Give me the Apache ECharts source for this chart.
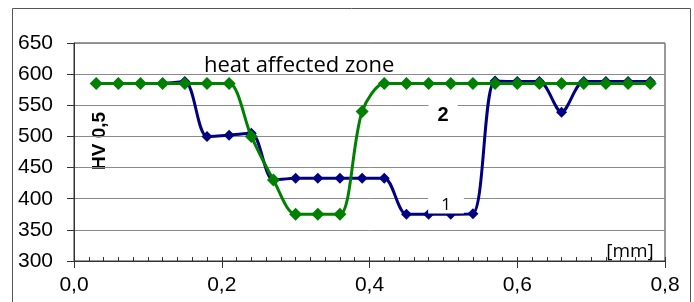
<!DOCTYPE html>
<html>
<head>
<meta charset="utf-8">
<script src="https://cdn.jsdelivr.net/npm/echarts@6/dist/echarts.min.js"></script>
<style>
  html, body { margin: 0; padding: 0; background: #fff; }
  #chart { width: 694px; height: 302px; }
</style>
</head>
<body>
<div id="chart"></div>
<script>
// measuring positions, mm
const depth = [0.03, 0.06, 0.09, 0.12, 0.15, 0.18, 0.21, 0.24, 0.27, 0.30, 0.33, 0.36, 0.39,
               0.42, 0.45, 0.48, 0.51, 0.54, 0.57, 0.60, 0.63, 0.66, 0.69, 0.72, 0.75, 0.78];
// curve 1 (blue)
const hv1 = [585, 585, 585, 585, 588, 500, 502, 505, 430, 433, 433, 433, 433,
             433, 375, 375, 375, 376, 589, 588, 588, 539, 588, 588, 588, 588];
// curve 2 (green)
const hv2 = [585, 585, 585, 585, 585, 585, 585, 500, 430, 375, 375, 375, 540,
             585, 585, 585, 585, 585, 585, 585, 585, 585, 585, 585, 585, 585];
const xTicks = [0, 0.2, 0.4, 0.6, 0.8];
const yTicks = [300, 350, 400, 450, 500, 550, 600, 650];

const axisColor = '#333';
const labelFont = 'Liberation Sans, Arial, sans-serif';

const chart = echarts.init(document.getElementById('chart'));

const toPairs = vals => depth.map((d, i) => [d, vals[i]]);

chart.setOption({
    animation: false,
    backgroundColor: '#fff',
    grid: {
        left: 74, right: 29, top: 43, bottom: 41,
        show: true, borderColor: axisColor, borderWidth: 1
    },
    xAxis: [
        {
            type: 'value',
            min: xTicks[0], max: xTicks[xTicks.length - 1], interval: 0.2,
            axisLine: { lineStyle: { color: axisColor } },
            axisTick: { length: 7, lineStyle: { color: axisColor } },
            axisLabel: {
                margin: 14, fontSize: 21, fontFamily: labelFont, color: '#000',
                formatter: v => v.toFixed(1).replace('.', ',')
            },
            splitLine: { show: false }
        },
        {
            // minor ticks pointing inwards
            type: 'value', position: 'bottom',
            min: 0, max: 0.8, interval: 0.02,
            axisLine: { show: false },
            axisTick: { inside: true, length: 4, lineStyle: { color: axisColor } },
            axisLabel: { show: false },
            splitLine: { show: false }
        }
    ],
    yAxis: {
        type: 'value',
        min: yTicks[0], max: yTicks[yTicks.length - 1], interval: 50,
        axisLine: { show: true, lineStyle: { color: axisColor } },
        axisTick: { show: true, length: 7, lineStyle: { color: axisColor } },
        axisLabel: { margin: 21, fontSize: 21, fontFamily: labelFont, color: '#000' },
        splitLine: { lineStyle: { color: '#8a8a8a', width: 1 } }
    },
    series: [
        {
            name: '1',
            type: 'line',
            data: toPairs(hv1),
            smooth: 0.3,
            symbol: 'diamond',
            symbolSize: 11,
            lineStyle: { color: '#000080', width: 3 },
            itemStyle: { color: '#000080' },
            z: 2
        },
        {
            name: '2',
            type: 'line',
            data: toPairs(hv2),
            smooth: 0.3,
            symbol: 'diamond',
            symbolSize: 13,
            lineStyle: { color: '#008000', width: 3 },
            itemStyle: { color: '#008000' },
            z: 3
        }
    ],
    graphic: [
        {
            type: 'rect', silent: true,
            shape: { x: 12.5, y: 8.5, width: 678, height: 320 },
            style: { fill: 'none', stroke: '#555', lineWidth: 1 }
        },
        {
            type: 'text', x: 204, y: 66,
            style: {
                text: 'heat affected zone', fontSize: 22, fontFamily: 'Open Sans, sans-serif',
                fill: '#000', textVerticalAlign: 'middle'
            }
        },
        {
            type: 'text', x: 100, y: 141, rotation: Math.PI / 2,
            style: {
                text: 'HV 0,5', fontSize: 19, fontWeight: 'bold', fontFamily: labelFont,
                fill: '#000', textAlign: 'center', textVerticalAlign: 'middle'
            }
        },
        {
            type: 'text', x: 443, y: 115, z: 10,
            style: {
                text: '2', fontSize: 20, fontWeight: 'bold', fontFamily: labelFont,
                fill: '#000', textAlign: 'center', textVerticalAlign: 'middle',
                backgroundColor: '#fff', padding: [0, 9]
            }
        },
        {
            type: 'text', x: 446, y: 205, z: 10,
            style: {
                text: '1', fontSize: 17, fontFamily: 'Open Sans, sans-serif',
                fill: '#000', textAlign: 'center', textVerticalAlign: 'middle',
                backgroundColor: '#fff', padding: [0, 13]
            }
        },
        {
            type: 'text', x: 630, y: 252,
            style: {
                text: '[mm]', fontSize: 19, fontFamily: 'Open Sans, sans-serif',
                fill: '#000', textAlign: 'center', textVerticalAlign: 'middle'
            }
        }
    ]
});
</script>
</body>
</html>
